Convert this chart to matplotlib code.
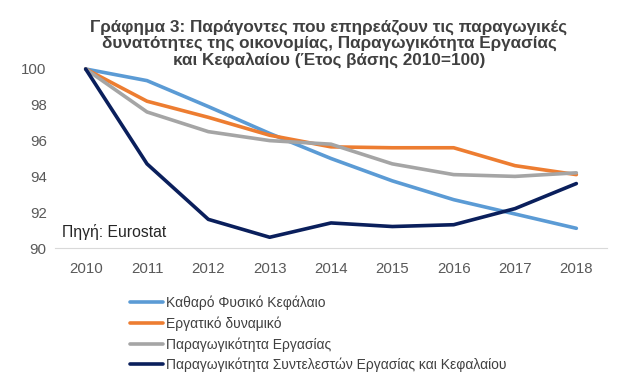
import matplotlib
matplotlib.use("Agg")
import matplotlib.pyplot as plt

years = [2010, 2011, 2012, 2013, 2014, 2015, 2016, 2017, 2018]
capital = [100, 99.35, 97.9, 96.4, 95.0, 93.75, 92.7, 91.9, 91.1]
labour = [100, 98.2, 97.3, 96.3, 95.65, 95.6, 95.6, 94.6, 94.1]
labour_prod = [100, 97.6, 96.5, 96.0, 95.8, 94.7, 94.1, 94.0, 94.2]
tfp = [100, 94.7, 91.6, 90.6, 91.4, 91.2, 91.3, 92.2, 93.6]

names = ["Καθαρό Φυσικό Κεφάλαιο", "Εργατικό δυναμικό",
         "Παραγωγικότητα Εργασίας",
         "Παραγωγικότητα Συντελεστών Εργασίας και Κεφαλαίου"]
colors = ["#5B9BD5", "#ED7D31", "#A5A5A5", "#0A1F5C"]
yticks = [90, 92, 94, 96, 98, 100]
title = ("Γράφημα 3: Παράγοντες που επηρεάζουν τις παραγωγικές\n"
         "δυνατότητες της οικονομίας, Παραγωγικότητα Εργασίας\n"
         "και Κεφαλαίου (Έτος βάσης 2010=100)")
source = "Πηγή: Eurostat"

plt.rcParams['font.family'] = ['Liberation Sans', 'DejaVu Sans']

fig = plt.figure(figsize=(6.31, 3.86), dpi=100)
ax = fig.add_axes([55/631, 1-248/386, 552/631, (248-69)/386])

for series, name, c in zip([capital, labour, labour_prod, tfp], names, colors):
    ax.plot(years, series, color=c, lw=2.6, label=name, solid_capstyle='round',
            solid_joinstyle='round', clip_on=False)

ax.set_xlim(2009.5, 2018.5)
ax.set_ylim(90, 100)
ax.set_yticks(yticks)
ax.set_xticks(years)
ax.tick_params(length=0, labelsize=10.8, colors="#595959", pad=6)
ax.tick_params(axis='x', pad=10)
for s in ['top', 'right', 'left']:
    ax.spines[s].set_visible(False)
ax.spines['bottom'].set_color('#D9D9D9')
ax.set_facecolor('none')

fig.text(329/631, 1-44/386, title, ha='center', va='center', fontsize=12.3,
         fontweight='bold', color='#404040', linespacing=1.06)
fig.text(62/631, 1-232/386, source, fontsize=11.3, color='#262626',
         ha='left', va='center')

leg = fig.legend(loc='upper left', bbox_to_anchor=(124/631, 1-290/386),
                 frameon=False, fontsize=10, handlelength=2.4, handletextpad=0.25,
                 labelspacing=0.45, borderaxespad=0)
for t in leg.get_texts():
    t.set_color('#404040')

fig.savefig("out.png", dpi=100)
